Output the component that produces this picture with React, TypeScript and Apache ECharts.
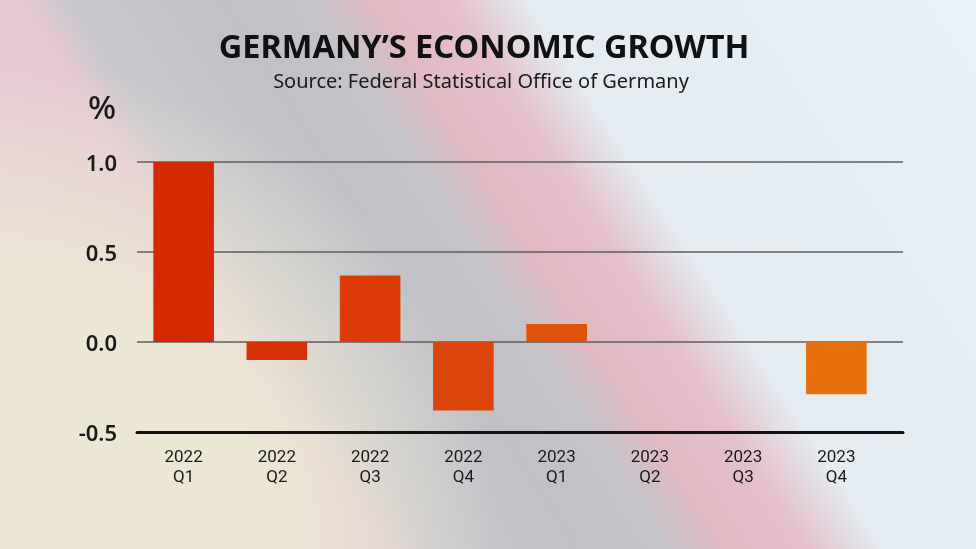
import React, { useEffect, useRef } from "react";
import * as echarts from "echarts";

const categories = ["2022\nQ1", "2022\nQ2", "2022\nQ3", "2022\nQ4", "2023\nQ1", "2023\nQ2", "2023\nQ3", "2023\nQ4"];
const growth = [1.0, -0.1, 0.37, -0.38, 0.1, 0.0, 0.0, -0.29];
const barColors = ["#d42800", "#d63208", "#dc3a06", "#dd4408", "#e0520a", "#e25e0a", "#e4660b", "#e7700c"];
const yTicks = { min: -0.5, max: 1.0, interval: 0.5 };
const titleText = "GERMANY\u2019S ECONOMIC GROWTH";
const subtitleText = "Source: Federal Statistical Office of Germany";
const unitText = "%";

export default function App() {
  const ref = useRef<HTMLDivElement>(null);
  useEffect(() => {
    if (!ref.current) return;
    const chart = echarts.init(ref.current, null, { renderer: "svg" });
    const bg = new echarts.graphic.LinearGradient(
      -251, 163, 686, -446,
      [
        { offset: 0, color: "#eadcd8" },
        { offset: 0.14, color: "#e9ccd6" },
        { offset: 0.283, color: "#e6c8d2" },
        { offset: 0.32, color: "#c8c7cc" },
        { offset: 0.433, color: "#bfc1c6" },
        { offset: 0.5, color: "#c4c3c8" },
        { offset: 0.545, color: "#e0b9c3" },
        { offset: 0.605, color: "#e4c0ca" },
        { offset: 0.662, color: "#e4ebf1" },
        { offset: 1, color: "#e6f1f8" },
      ],
      true
    );
    const cream = new echarts.graphic.RadialGradient(
      0, 560, 500,
      [
        { offset: 0, color: "rgba(237,232,214,1)" },
        { offset: 0.55, color: "rgba(236,231,212,0.97)" },
        { offset: 0.8, color: "rgba(236,231,212,0.45)" },
        { offset: 1, color: "rgba(236,231,212,0)" },
      ],
      true
    );
    chart.setOption({
      animation: false,
      graphic: [
        { type: "rect", z: -100, shape: { x: 0, y: 0, width: 976, height: 549 }, style: { fill: bg } },
        { type: "rect", z: -99, shape: { x: 0, y: 0, width: 976, height: 549 }, style: { fill: cream } },
        {
          type: "text", x: 484, y: 45,
          style: {
            text: titleText, font: "bold 32.5px 'Noto Sans', sans-serif", fill: "#111",
            align: "center", verticalAlign: "middle", lineHeight: 32,
          },
        },
        {
          type: "text", x: 481, y: 80,
          style: {
            text: subtitleText, font: "20px 'Noto Sans', sans-serif", fill: "#1a1a1a",
            align: "center", verticalAlign: "middle", lineHeight: 20,
          },
        },
        {
          type: "text", x: 102, y: 106,
          style: {
            text: unitText, font: "500 33px 'Noto Sans', sans-serif", fill: "#1a1a1a",
            align: "center", verticalAlign: "middle", lineHeight: 33,
          },
        },
      ],
      grid: [
        { left: 137, right: 73, top: 162, bottom: 117 },
        { left: 137, right: 93, top: 162, bottom: 117 },
      ],
      xAxis: [
        {
          type: "value", gridIndex: 0, min: 0, max: 1,
          axisLabel: { show: false }, axisTick: { show: false }, splitLine: { show: false },
          axisLine: { show: true, onZero: false, lineStyle: { color: "#111", width: 3 } },
        },
        {
          type: "category", gridIndex: 1, data: categories,
          axisLine: { show: false }, axisTick: { show: false },
          axisLabel: {
            margin: 14, fontSize: 17, lineHeight: 20, color: "#1a1a1a",
            fontFamily: "Roboto, sans-serif",
          },
        },
      ],
      yAxis: [
        {
          type: "value", gridIndex: 0, min: yTicks.min, max: yTicks.max, interval: yTicks.interval,
          axisLine: { show: false }, axisTick: { show: false },
          axisLabel: {
            margin: 20, fontSize: 22, fontWeight: 600, color: "#1a1a1a",
            fontFamily: "'Noto Sans', sans-serif",
            formatter: (v: number) => v.toFixed(1),
          },
          splitLine: { show: true, lineStyle: { color: "#5e5e5e", width: 1.5 } },
        },
        {
          type: "value", gridIndex: 1, min: yTicks.min, max: yTicks.max, interval: yTicks.interval,
          show: false, splitLine: { show: false },
        },
      ],
      series: [
        {
          type: "bar", xAxisIndex: 1, yAxisIndex: 1, barWidth: "65%",
          data: growth.map((v, i) => ({ value: v, itemStyle: { color: barColors[i] } })),
        },
      ],
    });
    return () => chart.dispose();
  }, []);
  return <div ref={ref} style={{ position: "fixed", left: 0, top: 0, width: 976, height: 549 }} />;
}
